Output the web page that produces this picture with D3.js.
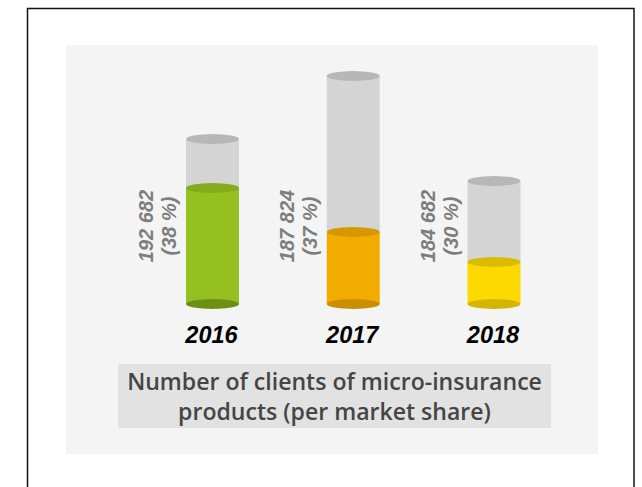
<!DOCTYPE html>
<html><head><meta charset="utf-8">
<script src="https://cdn.jsdelivr.net/npm/d3@7"></script>
<style>html,body{margin:0;padding:0;background:#fff;}svg{display:block;}</style>
</head><body>
<script>
const years = ["2016", "2017", "2018"];
const clients = ["192 682", "187 824", "184 682"];
const shares = ["(38 %)", "(37 %)", "(30 %)"];
// cylinder heights as drawn (relative units)
const totalLevel = [165, 228, 123];
const fillLevel = [116, 72, 42];
const bodyColors = ["#94c11f", "#f2ac00", "#fed900"];
const topColors = ["#84ab1b", "#d59800", "#d9bc00"];
const bottomColors = ["#6e8f15", "#c98f00", "#d4b600"];
const titleLines = ["Number of clients of micro-insurance", "products (per market share)"];

const W = 642, H = 487;
const svg = d3.select("body").append("svg").attr("width", W).attr("height", H);

svg.append("rect").attr("x", 27.5).attr("y", 8.5).attr("width", 606.5).attr("height", 500)
  .attr("fill", "#fff").attr("stroke", "#111").attr("stroke-width", 1.5);
svg.append("rect").attr("x", 66).attr("y", 45).attr("width", 532).attr("height", 409).attr("fill", "#f4f4f4");

const x = d3.scalePoint().domain(years).range([212.5, 494]);
const y = d3.scaleLinear().domain([0, 228]).range([304, 76]);
const rx = 26.5, ry = 5;

const g = svg.selectAll("g.cyl").data(years).join("g").attr("class", "cyl");
g.append("rect").attr("x", d => x(d) - rx).attr("width", rx * 2)
  .attr("y", (d, i) => y(totalLevel[i])).attr("height", (d, i) => y(fillLevel[i]) - y(totalLevel[i]))
  .attr("fill", "#d4d4d4");
g.append("rect").attr("x", d => x(d) - rx).attr("width", rx * 2)
  .attr("y", (d, i) => y(fillLevel[i])).attr("height", (d, i) => y(0) - y(fillLevel[i]))
  .attr("fill", (d, i) => bodyColors[i]);
g.append("ellipse").attr("cx", d => x(d)).attr("cy", y(0)).attr("rx", rx).attr("ry", ry)
  .attr("fill", (d, i) => bottomColors[i]);
g.append("ellipse").attr("cx", d => x(d)).attr("cy", (d, i) => y(fillLevel[i])).attr("rx", rx).attr("ry", ry)
  .attr("fill", (d, i) => topColors[i]);
g.append("ellipse").attr("cx", d => x(d)).attr("cy", (d, i) => y(totalLevel[i])).attr("rx", rx).attr("ry", ry)
  .attr("fill", "#b7b7b7");

const lab = g.append("text")
  .attr("transform", d => `translate(${x(d) - rx - 33},226) rotate(-90)`)
  .attr("text-anchor", "middle")
  .attr("font-family", "Liberation Sans, Arial, sans-serif")
  .attr("font-size", 20).attr("font-weight", "bold").attr("font-style", "italic")
  .attr("fill", "#7d7d7d");
lab.append("tspan").attr("x", 0).attr("y", 0).text((d, i) => clients[i]);
lab.append("tspan").attr("x", 0).attr("y", 23).text((d, i) => shares[i]);

g.append("text").attr("x", d => x(d) - 1).attr("y", 343).attr("text-anchor", "middle")
  .attr("font-family", "Liberation Sans, Arial, sans-serif")
  .attr("font-size", 23.5).attr("font-weight", "bold").attr("font-style", "italic")
  .attr("fill", "#000").text(d => d);

svg.append("rect").attr("x", 118).attr("y", 364).attr("width", 433).attr("height", 64).attr("fill", "#e2e2e2");
const tt = svg.append("g").selectAll("text").data(titleLines).join("text")
  .attr("x", 334.5).attr("y", (d, i) => 390 + i * 30).attr("text-anchor", "middle")
  .attr("font-family", "'Open Sans', Lato, sans-serif").attr("font-weight", 600)
  .attr("font-size", 22).attr("fill", "#454545").text(d => d);
// fit first line to the reference width
const len = tt.nodes()[0].getComputedTextLength();
const fs = 22 * 415 / len;
tt.attr("font-size", fs);
</script>
</body></html>
